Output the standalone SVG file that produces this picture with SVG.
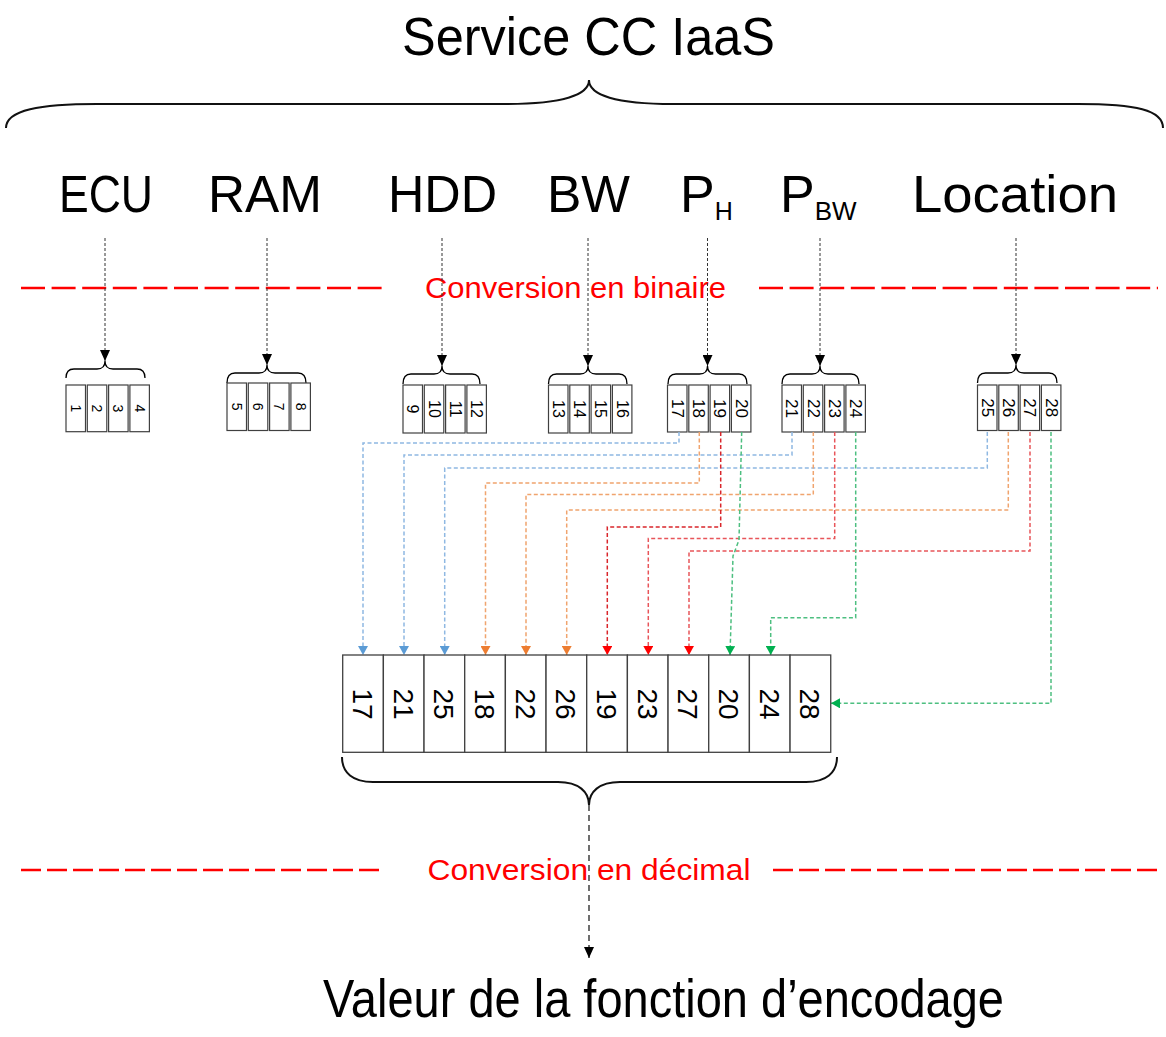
<svg xmlns="http://www.w3.org/2000/svg" width="1166" height="1037" viewBox="0 0 1166 1037">
<style>
.t{font-family:"Liberation Sans",Arial,sans-serif;fill:#000}
.red{font-family:"Liberation Sans",Arial,sans-serif;fill:#FF0000}
.cell{fill:#fff;stroke:#404040;stroke-width:1.2}
.big{fill:#fff;stroke:#404040;stroke-width:1.3}
.brace{fill:none;stroke:#000;stroke-width:1.3}
.bbrace{fill:none;stroke:#111;stroke-width:2}
.dl{fill:none;stroke:#333;stroke-width:1;stroke-dasharray:3 2}
.rl{stroke:#FF0000;stroke-width:2.5}
.c{fill:none;stroke-width:1.5;stroke-dasharray:4 2.5}
.n1{font-size:14px}.n2{font-size:14px}.n3{font-size:16px}.n4{font-size:17px}.n5{font-size:28px}
</style>
<defs>
<marker id="ak" viewBox="0 0 11 10" refX="11" refY="5" markerWidth="11" markerHeight="10" markerUnits="userSpaceOnUse" orient="auto"><path d="M0,0 L11,5 L0,10 z" fill="#000"/></marker>
<marker id="ab" viewBox="0 0 9 10" refX="9" refY="5" markerWidth="9" markerHeight="10" markerUnits="userSpaceOnUse" orient="auto"><path d="M0,0 L9,5 L0,10 z" fill="#5B9BD5"/></marker>
<marker id="ao" viewBox="0 0 9 10" refX="9" refY="5" markerWidth="9" markerHeight="10" markerUnits="userSpaceOnUse" orient="auto"><path d="M0,0 L9,5 L0,10 z" fill="#ED7D31"/></marker>
<marker id="ar" viewBox="0 0 9 10" refX="9" refY="5" markerWidth="9" markerHeight="10" markerUnits="userSpaceOnUse" orient="auto"><path d="M0,0 L9,5 L0,10 z" fill="#FF0000"/></marker>
<marker id="ag" viewBox="0 0 9 10" refX="9" refY="5" markerWidth="9" markerHeight="10" markerUnits="userSpaceOnUse" orient="auto"><path d="M0,0 L9,5 L0,10 z" fill="#00B050"/></marker>
</defs>
<rect width="1166" height="1037" fill="#fff"/>

<g id="title">
<text class="t" x="402" y="55" font-size="53" textLength="373" lengthAdjust="spacingAndGlyphs">Service CC IaaS</text>
<path class="bbrace" d="M6,128 C6,110 40,104 97,104 L505,104 C562,104 589,95 589,80 C589,95 616,104 673,104 L1078,104 C1136,104 1163,110 1163,128"/>
</g>

<g id="headers">
<text class="t" x="59" y="212" font-size="52" textLength="94" lengthAdjust="spacingAndGlyphs">ECU</text>
<text class="t" x="208" y="212" font-size="52" textLength="114" lengthAdjust="spacingAndGlyphs">RAM</text>
<text class="t" x="388" y="212" font-size="52" textLength="109" lengthAdjust="spacingAndGlyphs">HDD</text>
<text class="t" x="547" y="212" font-size="52" textLength="83" lengthAdjust="spacingAndGlyphs">BW</text>
<text class="t" x="680" y="212" font-size="52">P<tspan font-size="25" dy="8">H</tspan></text>
<text class="t" x="780" y="212" font-size="52">P<tspan font-size="26" dy="8">BW</tspan></text>
<text class="t" x="912" y="212" font-size="52" textLength="206" lengthAdjust="spacingAndGlyphs">Location</text>
</g>

<g id="conversion-binaire">
<line class="rl" x1="21" y1="288" x2="388" y2="288" stroke-dasharray="24 6.6"/>
<line class="rl" x1="759" y1="288" x2="1158" y2="288" stroke-dasharray="24 6.6"/>
<text class="red" x="425" y="298" font-size="29" textLength="301" lengthAdjust="spacingAndGlyphs">Conversion en binaire</text>
</g>

<g id="header-arrows">
<line class="dl" x1="105" y1="238" x2="105" y2="361" marker-end="url(#ak)"/>
<line class="dl" x1="267" y1="238" x2="267" y2="365" marker-end="url(#ak)"/>
<line class="dl" x1="442" y1="238" x2="442" y2="366" marker-end="url(#ak)"/>
<line class="dl" x1="588" y1="238" x2="588" y2="366" marker-end="url(#ak)"/>
<line class="dl" x1="707.5" y1="238" x2="707.5" y2="366" marker-end="url(#ak)"/>
<line class="dl" x1="820" y1="238" x2="820" y2="366" marker-end="url(#ak)"/>
<line class="dl" x1="1016" y1="238" x2="1016" y2="365" marker-end="url(#ak)"/>
</g>

<g id="ecu-bits">
<path class="brace" d="M66,378 Q66,369 74,369 L97,369 Q105,369 105,361 Q105,369 113,369 L137,369 Q145,369 145,378"/>
<rect class="cell" x="66" y="385" width="19.5" height="46.7"/>
<rect class="cell" x="87.3" y="385" width="19.5" height="46.7"/>
<rect class="cell" x="108.6" y="385" width="19.5" height="46.7"/>
<rect class="cell" x="129.9" y="385" width="19.5" height="46.7"/>
<g class="t n1" text-anchor="middle" dominant-baseline="central">
<text transform="translate(75.75,408.3) rotate(90)">1</text>
<text transform="translate(97.05,408.3) rotate(90)">2</text>
<text transform="translate(118.35,408.3) rotate(90)">3</text>
<text transform="translate(139.65,408.3) rotate(90)">4</text>
</g>
</g>

<g id="ram-bits">
<path class="brace" d="M227,383 Q227,373 235,373 L259,373 Q267,373 267,365 Q267,373 275,373 L298,373 Q306,373 306,383"/>
<rect class="cell" x="227" y="383" width="19.5" height="47.5"/>
<rect class="cell" x="248.3" y="383" width="19.5" height="47.5"/>
<rect class="cell" x="269.6" y="383" width="19.5" height="47.5"/>
<rect class="cell" x="290.9" y="383" width="19.5" height="47.5"/>
<g class="t n2" text-anchor="middle" dominant-baseline="central">
<text transform="translate(236.75,406.7) rotate(90)">5</text>
<text transform="translate(258.05,406.7) rotate(90)">6</text>
<text transform="translate(279.35,406.7) rotate(90)">7</text>
<text transform="translate(300.65,406.7) rotate(90)">8</text>
</g>
</g>

<g id="hdd-bits">
<path class="brace" d="M403,384 Q403,374 411,374 L434,374 Q442,374 442,366 Q442,374 450,374 L472,374 Q480,374 480,384"/>
<rect class="cell" x="403" y="385" width="19.5" height="48"/>
<rect class="cell" x="424.3" y="385" width="19.5" height="48"/>
<rect class="cell" x="445.6" y="385" width="19.5" height="48"/>
<rect class="cell" x="466.9" y="385" width="19.5" height="48"/>
<g class="t n3" text-anchor="middle" dominant-baseline="central">
<text transform="translate(412.75,409) rotate(90)">9</text>
<text transform="translate(434.05,409) rotate(90)">10</text>
<text transform="translate(455.35,409) rotate(90)">11</text>
<text transform="translate(476.65,409) rotate(90)">12</text>
</g>
</g>

<g id="bw-bits">
<path class="brace" d="M548.5,384 Q548.5,374 556.5,374 L580,374 Q588,374 588,366 Q588,374 596,374 L619,374 Q627,374 627,384"/>
<rect class="cell" x="548.5" y="385" width="19.5" height="48"/>
<rect class="cell" x="569.8" y="385" width="19.5" height="48"/>
<rect class="cell" x="591.1" y="385" width="19.5" height="48"/>
<rect class="cell" x="612.4" y="385" width="19.5" height="48"/>
<g class="t n3" text-anchor="middle" dominant-baseline="central">
<text transform="translate(558.25,409) rotate(90)">13</text>
<text transform="translate(579.55,409) rotate(90)">14</text>
<text transform="translate(600.85,409) rotate(90)">15</text>
<text transform="translate(622.15,409) rotate(90)">16</text>
</g>
</g>

<g id="ph-bits">
<path class="brace" d="M668,384 Q668,374 676,374 L699.5,374 Q707.5,374 707.5,366 Q707.5,374 715.5,374 L739,374 Q747,374 747,384"/>
<rect class="cell" x="667.5" y="385" width="19.5" height="47"/>
<rect class="cell" x="688.8" y="385" width="19.5" height="47"/>
<rect class="cell" x="710.1" y="385" width="19.5" height="47"/>
<rect class="cell" x="731.4" y="385" width="19.5" height="47"/>
<g class="t n4" text-anchor="middle" dominant-baseline="central">
<text transform="translate(677.25,408.5) rotate(90)">17</text>
<text transform="translate(698.55,408.5) rotate(90)">18</text>
<text transform="translate(719.85,408.5) rotate(90)">19</text>
<text transform="translate(741.15,408.5) rotate(90)">20</text>
</g>
</g>

<g id="pbw-bits">
<path class="brace" d="M782,384 Q782,374 790,374 L812,374 Q820,374 820,366 Q820,374 828,374 L851,374 Q859,374 859,384"/>
<rect class="cell" x="782" y="385" width="19.5" height="47"/>
<rect class="cell" x="803.3" y="385" width="19.5" height="47"/>
<rect class="cell" x="824.6" y="385" width="19.5" height="47"/>
<rect class="cell" x="845.9" y="385" width="19.5" height="47"/>
<g class="t n4" text-anchor="middle" dominant-baseline="central">
<text transform="translate(791.75,408.5) rotate(90)">21</text>
<text transform="translate(813.05,408.5) rotate(90)">22</text>
<text transform="translate(834.35,408.5) rotate(90)">23</text>
<text transform="translate(855.65,408.5) rotate(90)">24</text>
</g>
</g>

<g id="location-bits">
<path class="brace" d="M977.5,383 Q977.5,373 985.5,373 L1008,373 Q1016,373 1016,365 Q1016,373 1024,373 L1049,373 Q1057,373 1057,383"/>
<rect class="cell" x="977.5" y="385" width="19.5" height="45.5"/>
<rect class="cell" x="998.8" y="385" width="19.5" height="45.5"/>
<rect class="cell" x="1020.1" y="385" width="19.5" height="45.5"/>
<rect class="cell" x="1041.4" y="385" width="19.5" height="45.5"/>
<g class="t n4" text-anchor="middle" dominant-baseline="central">
<text transform="translate(987.25,407.7) rotate(90)">25</text>
<text transform="translate(1008.55,407.7) rotate(90)">26</text>
<text transform="translate(1029.85,407.7) rotate(90)">27</text>
<text transform="translate(1051.15,407.7) rotate(90)">28</text>
</g>
</g>

<g id="connectors">
<path class="c" stroke="#8FB8E2" d="M679,432 V443 H363 V655" marker-end="url(#ab)"/>
<path class="c" stroke="#8FB8E2" d="M792,432 V455 H404 V655" marker-end="url(#ab)"/>
<path class="c" stroke="#8FB8E2" d="M987.3,432 V468 H444.7 V655" marker-end="url(#ab)"/>
<path class="c" stroke="#F0A46E" d="M699.3,432 V483 H485.5 V655" marker-end="url(#ao)"/>
<path class="c" stroke="#F0A46E" d="M813.3,432 V494.5 H526 V655" marker-end="url(#ao)"/>
<path class="c" stroke="#F0A46E" d="M1008.3,432 V510 H566.7 V655" marker-end="url(#ao)"/>
<path class="c" stroke="#D9262B" d="M720.7,432 V527 H607.3 V655" marker-end="url(#ar)"/>
<path class="c" stroke="#E8555A" d="M834.7,432 V538.5 H648.3 V655" marker-end="url(#ar)"/>
<path class="c" stroke="#E8555A" d="M1030,432 V551 H689 V655" marker-end="url(#ar)"/>
<path class="c" stroke="#4DBF80" d="M741.7,432 L739,540 L733,556 L730,655" marker-end="url(#ag)"/>
<path class="c" stroke="#4DBF80" d="M855.7,432 V617.7 H770.7 V655" marker-end="url(#ag)"/>
<path class="c" stroke="#4DBF80" d="M1051,432 V703.3 H831" marker-end="url(#ag)"/>
</g>

<g id="encoded-bits">
<rect class="big" x="342.7" y="655" width="40.67" height="97.3"/>
<rect class="big" x="383.37" y="655" width="40.67" height="97.3"/>
<rect class="big" x="424.04" y="655" width="40.67" height="97.3"/>
<rect class="big" x="464.71" y="655" width="40.67" height="97.3"/>
<rect class="big" x="505.38" y="655" width="40.67" height="97.3"/>
<rect class="big" x="546.05" y="655" width="40.67" height="97.3"/>
<rect class="big" x="586.72" y="655" width="40.67" height="97.3"/>
<rect class="big" x="627.39" y="655" width="40.67" height="97.3"/>
<rect class="big" x="668.06" y="655" width="40.67" height="97.3"/>
<rect class="big" x="708.73" y="655" width="40.67" height="97.3"/>
<rect class="big" x="749.4" y="655" width="40.67" height="97.3"/>
<rect class="big" x="790.07" y="655" width="40.67" height="97.3"/>
<g class="t n5" text-anchor="middle" dominant-baseline="central">
<text transform="translate(362.5,704) rotate(90)">17</text>
<text transform="translate(403.2,704) rotate(90)">21</text>
<text transform="translate(443.9,704) rotate(90)">25</text>
<text transform="translate(484.5,704) rotate(90)">18</text>
<text transform="translate(525.2,704) rotate(90)">22</text>
<text transform="translate(565.9,704) rotate(90)">26</text>
<text transform="translate(606.5,704) rotate(90)">19</text>
<text transform="translate(647.2,704) rotate(90)">23</text>
<text transform="translate(687.9,704) rotate(90)">27</text>
<text transform="translate(728.5,704) rotate(90)">20</text>
<text transform="translate(769.2,704) rotate(90)">24</text>
<text transform="translate(809.9,704) rotate(90)">28</text>
</g>
<path class="bbrace" d="M342,757 C342,773 353,782 373,782 L558,782 C579,782 589,792 589,805 C589,792 599,782 620,782 L806,782 C826,782 837,773 837,757"/>
</g>

<g id="conversion-decimal">
<line class="rl" x1="21" y1="870" x2="383" y2="870" stroke-dasharray="20 6"/>
<line class="rl" x1="773" y1="870" x2="1160" y2="870" stroke-dasharray="20 6"/>
<text class="red" x="427.5" y="880" font-size="29" textLength="323" lengthAdjust="spacingAndGlyphs">Conversion en décimal</text>
</g>

<g id="result-arrow">
<line x1="589" y1="805" x2="589" y2="958" stroke="#222" stroke-width="1.3" stroke-dasharray="6 4" marker-end="url(#ak)"/>
</g>

<g id="result">
<text class="t" x="323" y="1017" font-size="54" textLength="681" lengthAdjust="spacingAndGlyphs">Valeur de la fonction d’encodage</text>
</g>
</svg>
